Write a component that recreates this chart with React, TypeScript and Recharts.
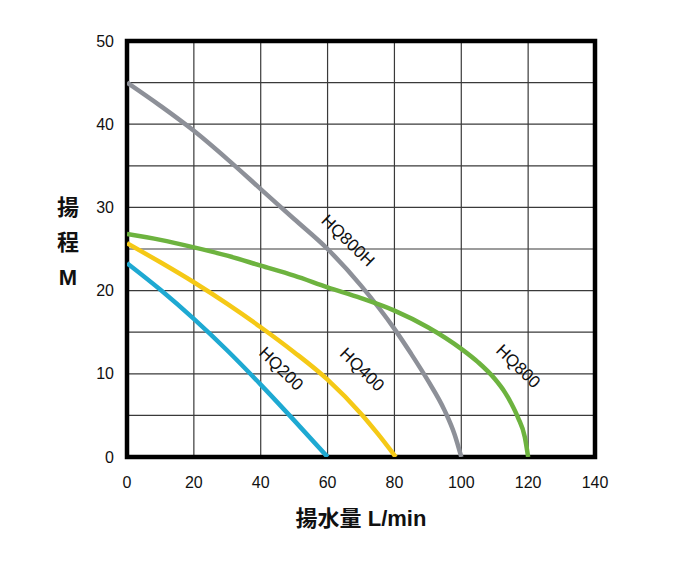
import { LineChart, Line, XAxis, YAxis, CartesianGrid, ReferenceArea, ReferenceDot } from 'recharts';

// ─── Data (flow L/min → head M) ──────────────────────────────────────────────

const xTicks = [0, 20, 40, 60, 80, 100, 120, 140];
const yTicks = [0, 10, 20, 30, 40, 50];
const gridX = [0, 20, 40, 60, 80, 100, 120, 140];
const gridY = [0, 5, 10, 15, 20, 25, 30, 35, 40, 45, 50];

const hq200 = [
  { x: 0, y: 23.3 }, { x: 10, y: 20.1 }, { x: 20, y: 16.6 }, { x: 30, y: 12.8 },
  { x: 40, y: 8.7 }, { x: 50, y: 4.4 }, { x: 60, y: 0 },
];
const hq400 = [
  { x: 0, y: 25.7 }, { x: 10, y: 23.4 }, { x: 20, y: 21.0 }, { x: 30, y: 18.4 },
  { x: 40, y: 15.6 }, { x: 50, y: 12.6 }, { x: 60, y: 9.3 }, { x: 70, y: 5.2 },
  { x: 75, y: 2.8 }, { x: 80.4, y: 0 },
];
const hq800 = [
  { x: 0, y: 26.8 }, { x: 10, y: 26.1 }, { x: 20, y: 25.2 }, { x: 30, y: 24.2 },
  { x: 40, y: 23.0 }, { x: 50, y: 21.8 }, { x: 60, y: 20.4 }, { x: 70, y: 19.1 },
  { x: 80, y: 17.6 }, { x: 90, y: 15.6 }, { x: 100, y: 13.0 }, { x: 105, y: 11.4 },
  { x: 110, y: 9.4 }, { x: 113, y: 7.8 }, { x: 115, y: 6.4 }, { x: 117, y: 4.7 },
  { x: 119, y: 2.4 }, { x: 120, y: 0 },
];
const hq800h = [
  { x: 0, y: 45 }, { x: 10, y: 42.2 }, { x: 20, y: 39.2 }, { x: 30, y: 35.8 },
  { x: 40, y: 32.2 }, { x: 50, y: 28.6 }, { x: 60, y: 25.0 }, { x: 70, y: 20.6 },
  { x: 80, y: 15.4 }, { x: 85, y: 12.4 }, { x: 90, y: 9.2 }, { x: 95, y: 5.6 },
  { x: 98, y: 2.7 }, { x: 100, y: 0 },
];

// curve name labels: [name, x, y]
const curveLabels: [string, number, number][] = [
  ['HQ200', 46.1, 10.6],
  ['HQ400', 70.3, 10.5],
  ['HQ800H', 66.1, 26.0],
  ['HQ800', 117.0, 10.9],
];

const FONT = '"Liberation Sans", Arial, "Noto Sans CJK JP", sans-serif';

// ─── Labels ───────────────────────────────────────────────────────────────────

// eslint-disable-next-line @typescript-eslint/no-explicit-any
function CurveName({ viewBox, text }: any) {
  const { x, y } = viewBox;
  return (
    <text
      x={x} y={y}
      transform={`rotate(44 ${x} ${y})`}
      textAnchor="middle"
      dominantBaseline="central"
      fontSize={17}
      fontFamily={FONT}
      fill="#111"
    >
      {text}
    </text>
  );
}

// eslint-disable-next-line @typescript-eslint/no-explicit-any
function XTitle({ viewBox }: any) {
  return (
    <text
      x={viewBox.x + viewBox.width / 2} y={viewBox.y + 69}
      textAnchor="middle" fontSize={22} fontWeight="bold"
      fontFamily={FONT} fill="#111"
    >
      揚水量 L/min
    </text>
  );
}

// eslint-disable-next-line @typescript-eslint/no-explicit-any
function YTitle({ viewBox }: any) {
  const cx = viewBox.x + 1;
  return (
    <g fontFamily={FONT} fontSize={22} fontWeight="bold" fill="#111" textAnchor="middle">
      <text x={cx} y={207} dominantBaseline="central">揚</text>
      <text x={cx} y={242} dominantBaseline="central">程</text>
      <text x={cx} y={277} dominantBaseline="central">M</text>
    </g>
  );
}

// ─── Component ────────────────────────────────────────────────────────────────

export default function App() {
  const tick = { fontSize: 16, fill: '#111', fontFamily: FONT };
  return (
    <div style={{ position: 'absolute', left: 0, top: 0, background: '#fff' }}>
      <LineChart width={675} height={562} margin={{ top: 41, right: 80, left: 67, bottom: 75 }}>
        <CartesianGrid
          stroke="#3a3a3a"
          strokeWidth={1.2}
          horizontalValues={gridY}
          verticalValues={gridX}
        />
        <XAxis
          type="number" dataKey="x" domain={[0, 140]} ticks={xTicks}
          axisLine={false} tickLine={false} tickMargin={14} height={30}
          tick={tick} allowDataOverflow
          label={<XTitle />}
        />
        <YAxis
          type="number" domain={[0, 50]} ticks={yTicks}
          axisLine={false} tickLine={false} tickMargin={7} width={60}
          tick={tick} allowDataOverflow
          label={<YTitle />}
        />

        <Line data={hq800h} dataKey="y" type="monotone" stroke="#8d9098" strokeWidth={4.5} dot={false} isAnimationActive={false} />
        <Line data={hq800} dataKey="y" type="monotone" stroke="#6db33f" strokeWidth={4.5} dot={false} isAnimationActive={false} />
        <Line data={hq400} dataKey="y" type="monotone" stroke="#f5c916" strokeWidth={4.5} dot={false} isAnimationActive={false} />
        <Line data={hq200} dataKey="y" type="monotone" stroke="#1ea9d2" strokeWidth={4.5} dot={false} isAnimationActive={false} />

        {curveLabels.map(([name, x, y]) => (
          <ReferenceDot
            key={name} x={x} y={y} r={0} fill="none" stroke="none"
            label={<CurveName text={name} />}
          />
        ))}

        {/* heavy frame around the plot */}
        <ReferenceArea x1={0} x2={140} y1={0} y2={50} fill="none" fillOpacity={0} stroke="#000" strokeWidth={4.5} />
      </LineChart>
    </div>
  );
}
